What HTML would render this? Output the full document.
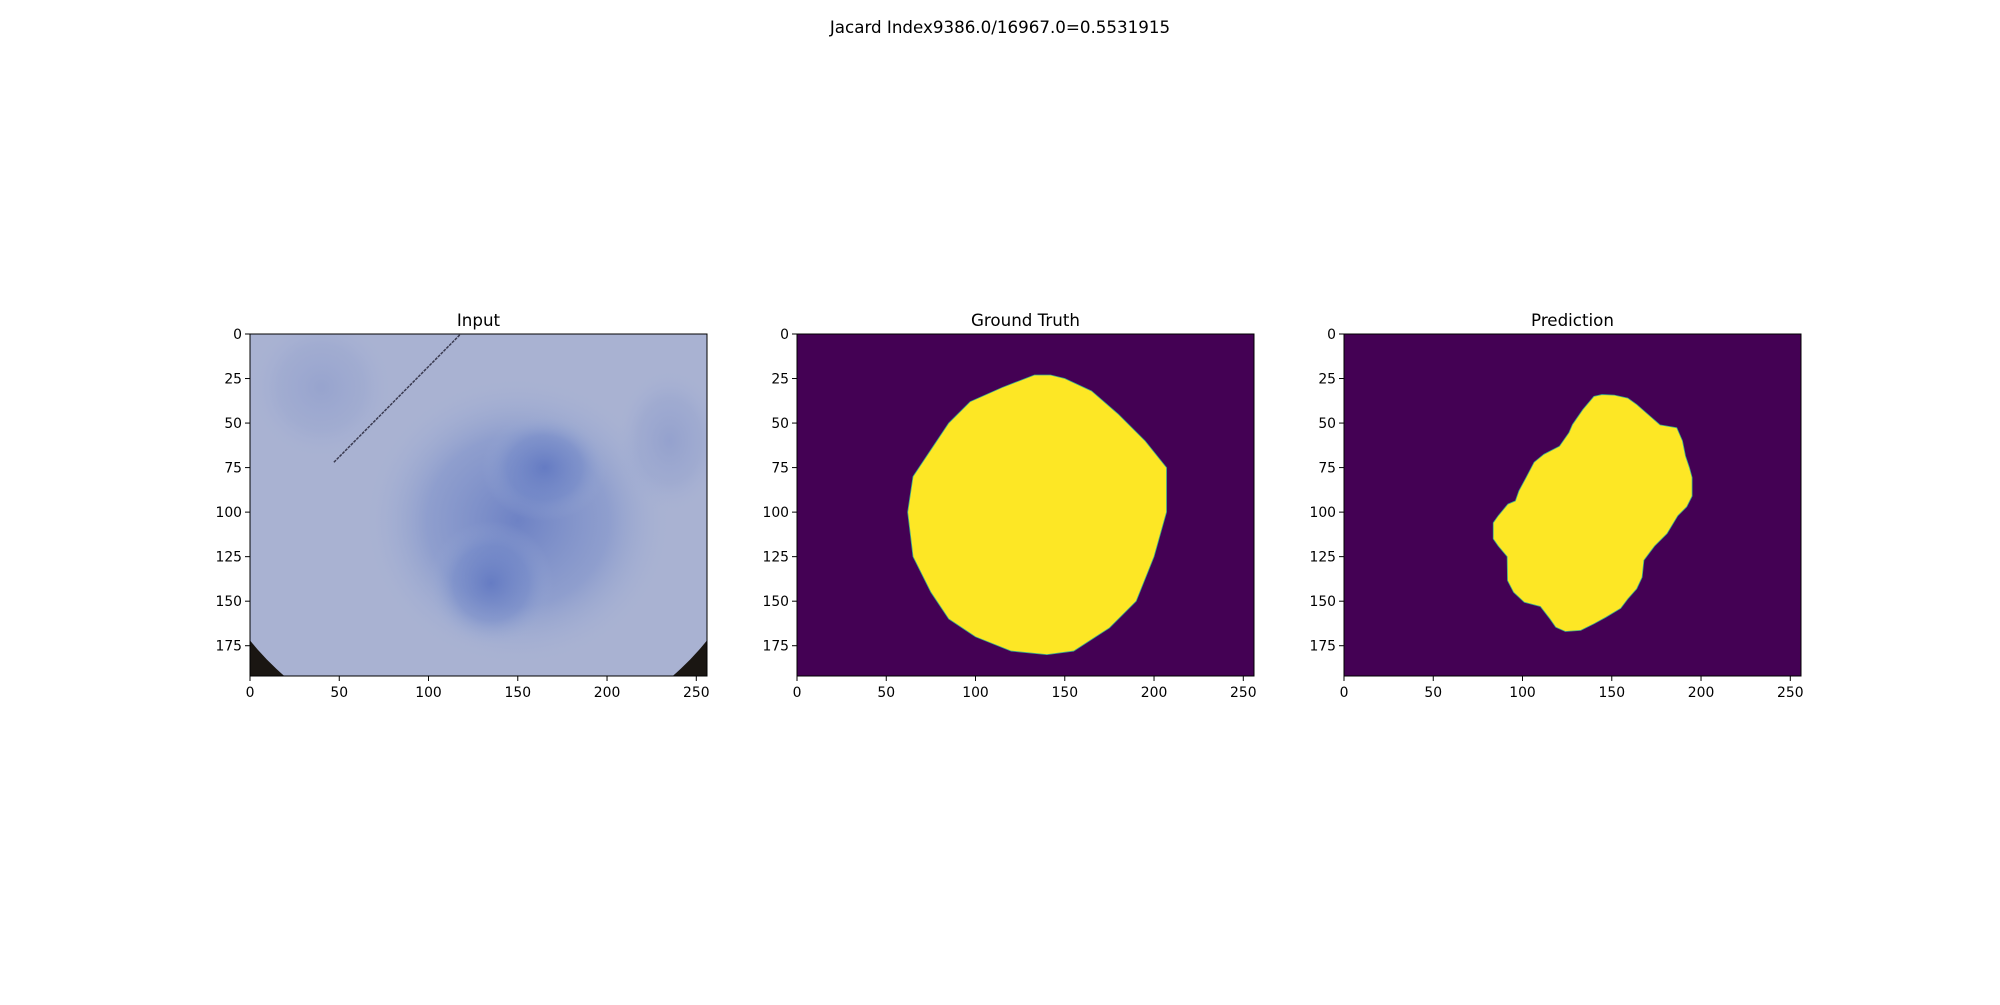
<!DOCTYPE html>
<html><head><meta charset="utf-8"><style>
body{margin:0;background:#fff;}
svg text{font-family:"DejaVu Sans","Liberation Sans",sans-serif;fill:#000;}
</style></head><body>
<svg id="fig" width="2000" height="1000" viewBox="0 0 2000 1000">
<defs>
<radialGradient id="blob" cx="0.5" cy="0.5" r="0.5">
<stop offset="0" stop-color="#5a72c0" stop-opacity="0.75"/>
<stop offset="0.6" stop-color="#6f86c8" stop-opacity="0.45"/>
<stop offset="1" stop-color="#9fb0d6" stop-opacity="0"/>
</radialGradient>
<clipPath id="c0"><rect x="250" y="334" width="457" height="342"/></clipPath>
</defs>
<text x="1000" y="33" text-anchor="middle" font-size="16.7">Jacard Index9386.0/16967.0=0.5531915</text>
<g id="panels"></g>
</svg>
<script>
const panelTitles=["Input","Ground Truth","Prediction"];
const xTicks=[0,50,100,150,200,250];
const yTicks=[0,25,50,75,100,125,150,175];
const gtX=[133,142,150,165,180,195,207,207,200,190,175,155,140,120,100,85,75,65,62,65,75,85,97,115];
const gtY=[23,23,25,32,45,60,75,100,125,150,165,178,180,178,170,160,145,125,100,80,65,50,38,30];
const predX=[140,144.5,151.4,159,164,177,186.4,189.6,191.3,193.5,195,195,192,187,181,174,168,167,164,159,155,146.7,140,132.6,124,118.6,115.4,110,101,95,91.6,91.4,86.4,83.6,83.6,86.4,91.8,96,98,102,106.5,112,120.7,126,128,133.8];
const predY=[35,34,34.3,36,39.6,51,52.6,60,68.5,75,80.6,91,97,102,112,119,127,136.6,143,148.7,154,159,162.7,166.4,167,164.6,160,153,150.6,145,138.4,125,119,115,106,102,95.5,93.7,88,80.6,72,67.5,63,55.4,50.8,42.4];
const lefts=[250,797,1344];
const top0=334, W=457, H=342;
const NS="http://www.w3.org/2000/svg";
const root=document.getElementById('panels');
function mk(tag,attrs,parent){const e=document.createElementNS(NS,tag);for(const k in attrs)e.setAttribute(k,attrs[k]);parent.appendChild(e);return e;}
lefts.forEach((L,i)=>{
  const g=mk('g',{},root);
  
  
  const sx=v=>L+v/256*W, sy=v=>top0+v/192*H;
  const dx=v=>v/256*W, dy=v=>v/192*H;
  if(i===0){
    const ig=mk('g',{'clip-path':'url(#c0)'},g);
    
    
    mk('rect',{x:L,y:top0,width:W,height:H,fill:'#1a1612'},ig);
    mk('ellipse',{cx:sx(128),cy:sy(82),rx:dx(160),ry:dy(150),fill:'#a9b2d2'},ig);
    mk('ellipse',{cx:sx(150),cy:sy(105),rx:dx(85),ry:dy(80),fill:'url(#blob)'},ig);
    mk('ellipse',{cx:sx(135),cy:sy(140),rx:dx(35),ry:dy(35),fill:'url(#blob)'},ig);
    mk('ellipse',{cx:sx(165),cy:sy(75),rx:dx(35),ry:dy(30),fill:'url(#blob)'},ig);
    mk('ellipse',{cx:sx(40),cy:sy(30),rx:dx(40),ry:dy(40),fill:'url(#blob)',opacity:0.3},ig);
    mk('ellipse',{cx:sx(235),cy:sy(60),rx:dx(30),ry:dy(40),fill:'url(#blob)',opacity:0.35},ig);
    const ln=mk('line',{x1:sx(47),y1:sy(72),x2:sx(118),y2:sy(0),stroke:'#3a3a50','stroke-width':1.5,'stroke-dasharray':'3 1'},ig);
    
    
  } else {
    const xs=i===1?gtX:predX, ys=i===1?gtY:predY;
    const bg=mk('rect',{x:L,y:top0,width:W,height:H,fill:'#440154'},g);
    
    
    const pts=xs.map((x,k)=>sx(x)+','+sy(ys[k])).join(' ');
    const p=mk('polygon',{points:pts,fill:'#fde725',stroke:'#3bb08a','stroke-width':0.8},g);
    
    
  }
  mk('rect',{x:L,y:top0,width:W,height:H,fill:'none',stroke:'#000','stroke-width':1},g);
  const t=mk('text',{x:L+W/2,y:top0-8,'text-anchor':'middle','font-size':16.7},g);
  t.textContent=panelTitles[i];
  
  
  xTicks.forEach(v=>{
    mk('line',{x1:sx(v),x2:sx(v),y1:top0+H,y2:top0+H+5,stroke:'#000','stroke-width':1},g);
    const tx=mk('text',{x:sx(v),y:top0+H+21,'text-anchor':'middle','font-size':13.9},g);
    tx.textContent=v;
    
    
  });
  yTicks.forEach(v=>{
    mk('line',{x1:L-5,x2:L,y1:sy(v),y2:sy(v),stroke:'#000','stroke-width':1},g);
    const ty=mk('text',{x:L-8,y:sy(v)+5,'text-anchor':'end','font-size':13.9},g);
    ty.textContent=v;
    
    
  });
});
</script>
</body></html>
